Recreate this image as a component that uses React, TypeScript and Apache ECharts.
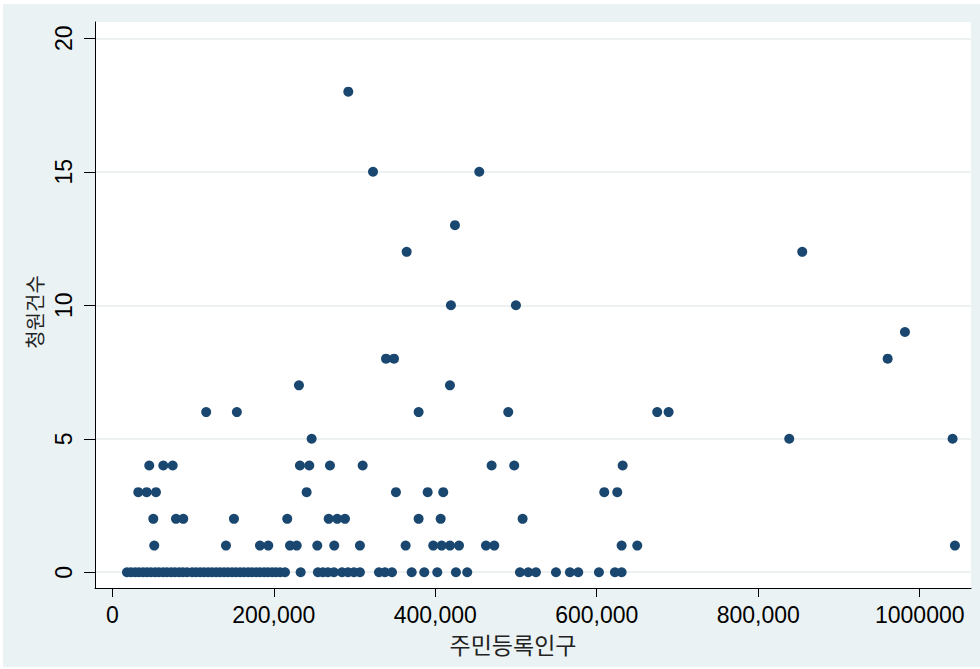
import React, { useEffect, useRef } from "react";
import * as echarts from "echarts";

// 주민등록인구 (x) and 청원건수 (y), one entry per municipality
const population: number[] = [
  // 0 petitions
  18200, 23100, 28300, 33000, 38100, 42900, 47800, 53000, 57700, 62900,
  67600, 72800, 77500, 82700, 87400, 92600, 98800, 103600, 108700, 113500,
  118600, 123400, 128500, 133300, 138400, 143200, 148300, 153100, 158200, 163000,
  168200, 172900, 178100, 182800, 188000, 192700, 197900, 202600, 207800, 213900,
  233300, 254700, 260900, 267100, 274500, 284500, 291900, 299300, 306700, 330300,
  337700, 346400, 370800, 386400, 402500, 425600, 439600, 504900, 515200, 524700,
  549500, 566800, 577100, 602700, 622500, 630800,
  // 1 petition
  52000, 140800, 182900, 193200, 220100, 228400, 253900, 274900, 306700, 363300,
  397500, 407900, 418200, 429400, 462800, 473100, 630800, 650200, 1043600,
  // 2
  50800, 78900, 87900, 150700, 216700, 268000, 278600, 288200, 379400, 406700, 508200,
  // 3
  32200, 42600, 54100, 240700, 351300, 390600, 409900, 609300, 625400,
  // 4
  45800, 63200, 74800, 232400, 244000, 269600, 310100, 469800, 497800, 632100,
  // 5
  246900, 838400, 1040700,
  // 6
  116300, 154300, 379400, 490400, 674900, 689000,
  // 7
  231200, 418200,
  // 8
  339000, 348900, 960300,
  // 9
  981700,
  // 10
  419400, 499900,
  // 12
  364600, 854500,
  // 13
  424400,
  // 15
  322900, 454500,
  // 18
  292300,
];

const petitions: number[] = [
  0, 0, 0, 0, 0, 0, 0, 0, 0, 0,
  0, 0, 0, 0, 0, 0, 0, 0, 0, 0,
  0, 0, 0, 0, 0, 0, 0, 0, 0, 0,
  0, 0, 0, 0, 0, 0, 0, 0, 0, 0,
  0, 0, 0, 0, 0, 0, 0, 0, 0, 0,
  0, 0, 0, 0, 0, 0, 0, 0, 0, 0,
  0, 0, 0, 0, 0, 0,
  1, 1, 1, 1, 1, 1, 1, 1, 1, 1,
  1, 1, 1, 1, 1, 1, 1, 1, 1,
  2, 2, 2, 2, 2, 2, 2, 2, 2, 2, 2,
  3, 3, 3, 3, 3, 3, 3, 3, 3,
  4, 4, 4, 4, 4, 4, 4, 4, 4, 4,
  5, 5, 5,
  6, 6, 6, 6, 6, 6,
  7, 7,
  8, 8, 8,
  9,
  10, 10,
  12, 12,
  13,
  15, 15,
  18,
];

const xTickValues = [0, 200000, 400000, 600000, 800000, 1000000];
const xTickLabels = ["0", "200,000", "400,000", "600,000", "800,000", "1000000"];
const yTickValues = [0, 5, 10, 15, 20];
const yTickLabels = ["0", "5", "10", "15", "20"];
const xTitle = "주민등록인구";
const yTitle = "청원건수";

export default function App() {
  const ref = useRef<HTMLDivElement>(null);

  useEffect(() => {
    document.body.style.margin = "0";
    if (!ref.current) return;
    const chart = echarts.init(ref.current, undefined, { renderer: "svg" });
    const data = population.map((p, i) => [p, petitions[i]]);
    const xLabelMap: Record<string, string> = {};
    xTickValues.forEach((v, i) => (xLabelMap[String(v)] = xTickLabels[i]));
    const yLabelMap: Record<string, string> = {};
    yTickValues.forEach((v, i) => (yLabelMap[String(v)] = yTickLabels[i]));

    chart.setOption({
      animation: false,
      backgroundColor: "#eaf2f3",
      grid: {
        left: 92,
        right: 9,
        top: 18,
        bottom: 79,
        show: true,
        backgroundColor: "#ffffff",
        borderWidth: 0,
      },
      xAxis: {
        type: "value",
        min: -21400,
        max: 1063500,
        axisLine: { show: true, onZero: false, lineStyle: { color: "#000", width: 1 } },
        axisTick: { show: true, customValues: xTickValues, length: 9, lineStyle: { color: "#000" } },
        axisLabel: {
          customValues: xTickValues,
          formatter: (v: number) => xLabelMap[String(v)] ?? "",
          fontFamily: "Liberation Sans",
          fontSize: 23,
          color: "#000",
          margin: 15,
        },
        splitLine: { show: false },
        name: xTitle,
        nameLocation: "middle",
        nameGap: 44,
        nameTextStyle: {
          fontFamily: "Noto Sans CJK KR",
          fontSize: 23,
          color: "#222",
          padding: [0, 40, 0, 0],
        },
      },
      yAxis: {
        type: "value",
        min: -0.59,
        max: 20.61,
        axisLine: { show: true, onZero: false, lineStyle: { color: "#000", width: 1 } },
        axisTick: { show: true, customValues: yTickValues, length: 11, lineStyle: { color: "#000" } },
        axisLabel: {
          customValues: yTickValues,
          formatter: (v: number) => yLabelMap[String(v)] ?? "",
          rotate: 90,
          fontFamily: "Liberation Sans",
          fontSize: 23,
          color: "#000",
          margin: 20,
        },
        splitLine: { show: true, lineStyle: { color: "#e8eced", width: 1.5 } },
        name: yTitle,
        nameLocation: "middle",
        nameGap: 48,
        nameTextStyle: {
          fontFamily: "Noto Sans CJK KR",
          fontSize: 20,
          color: "#222",
          padding: [0, 14, 0, 0],
        },
      },
      series: [
        {
          type: "scatter",
          data,
          symbol: "circle",
          symbolSize: 10,
          itemStyle: { color: "#1a476f", opacity: 1 },
          clip: false,
        },
      ],
    });
    return () => chart.dispose();
  }, []);

  return (
    <div style={{ position: "fixed", left: 0, top: 0, width: 980, height: 669, background: "#ffffff" }}>
      <div ref={ref} style={{ position: "absolute", left: 3, top: 4, width: 977, height: 663 }} />
    </div>
  );
}
